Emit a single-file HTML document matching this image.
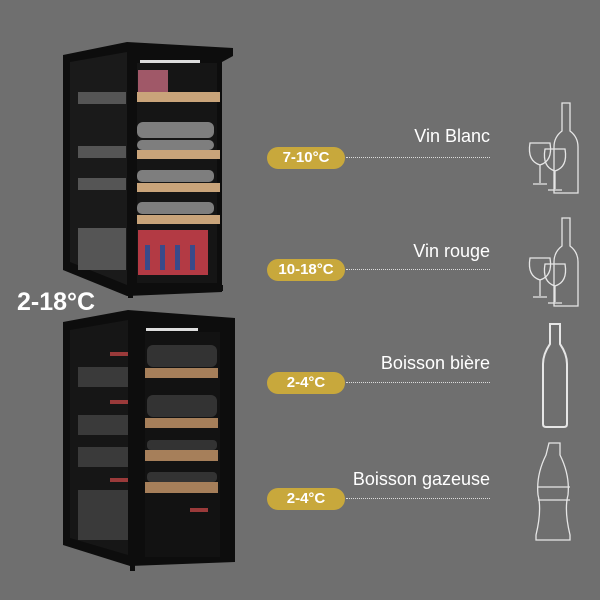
<!DOCTYPE html>
<html><head><meta charset="utf-8"><style>
html,body{margin:0;padding:0;background:#6f6f6f;}
#c{position:relative;width:600px;height:600px;overflow:hidden;background:#6f6f6f;font-family:"Liberation Sans",sans-serif;}
.pill{position:absolute;left:267px;width:78px;height:22px;border-radius:11px;background:#c8a83c;color:#fff;font-weight:bold;font-size:15px;line-height:22px;text-align:center;}
.dot{position:absolute;left:346px;width:144px;border-top:1.5px dotted #ddd;}
.lab{position:absolute;right:110px;color:#fff;font-size:18px;}
</style></head><body><div id="c">
<svg width="600" height="600" style="position:absolute;left:0;top:0">
 <!-- top fridge -->
 <polygon points="63,55 127,42 233,48 233,56 222,62 222,292 127,296 63,270" fill="#0d0d0d"/>
 <polygon points="70,62 127,52 127,285 70,262" fill="#1a1a1a"/>
 <rect x="137" y="63" width="80" height="220" fill="#151515"/>
 <rect x="140" y="60" width="60" height="3" fill="#ddd"/>
 <g fill="#c9a47a">
  <rect x="137" y="92" width="83" height="10"/><rect x="137" y="150" width="83" height="9"/>
  <rect x="137" y="183" width="83" height="9"/><rect x="137" y="215" width="83" height="9"/>
 </g>
 <g fill="#7e7e7e">
  <rect x="137" y="122" width="77" height="16" rx="6"/><rect x="137" y="140" width="77" height="10" rx="5"/>
  <rect x="137" y="170" width="77" height="12" rx="5"/><rect x="137" y="202" width="77" height="12" rx="5"/>
 </g>
 <rect x="138" y="70" width="30" height="22" fill="#a05868"/>
 <g fill="#b33a44"><rect x="138" y="230" width="70" height="45"/></g>
 <g fill="#3a4a8a"><rect x="145" y="245" width="5" height="25"/><rect x="160" y="245" width="5" height="25"/><rect x="175" y="245" width="5" height="25"/><rect x="190" y="245" width="5" height="25"/></g>
 <g fill="#555"><rect x="78" y="92" width="48" height="12"/><rect x="78" y="146" width="48" height="12"/><rect x="78" y="178" width="48" height="12"/><rect x="78" y="228" width="48" height="42"/></g>
 <rect x="128" y="292" width="5" height="6" fill="#0d0d0d"/><rect x="218" y="285" width="5" height="6" fill="#0d0d0d"/>
 <!-- bottom fridge -->
 <polygon points="63,322 128,310 235,318 235,562 130,566 63,545" fill="#0d0d0d"/>
 <polygon points="70,330 128,320 128,555 70,538" fill="#161616"/>
 <rect x="145" y="332" width="75" height="225" fill="#121212"/>
 <rect x="146" y="328" width="52" height="3" fill="#ddd"/>
 <g fill="#333"><rect x="147" y="345" width="70" height="22" rx="6"/><rect x="147" y="395" width="70" height="22" rx="6"/><rect x="147" y="440" width="70" height="10" rx="4"/><rect x="147" y="472" width="70" height="10" rx="4"/></g>
 <g fill="#a67f5a">
  <rect x="145" y="368" width="73" height="10"/><rect x="145" y="418" width="73" height="10"/>
  <rect x="145" y="450" width="73" height="11"/><rect x="145" y="482" width="73" height="11"/>
 </g>
 <g fill="#3a3a3a"><rect x="78" y="367" width="50" height="20"/><rect x="78" y="415" width="50" height="20"/><rect x="78" y="447" width="50" height="20"/><rect x="78" y="490" width="50" height="50"/></g>
 <g fill="#9a3a3a"><rect x="110" y="352" width="18" height="4"/><rect x="110" y="400" width="18" height="4"/><rect x="110" y="478" width="18" height="4"/><rect x="190" y="508" width="18" height="4"/></g>
 <rect x="130" y="565" width="5" height="6" fill="#0d0d0d"/>
 <!-- icons -->
 <g fill="none" stroke="#e6e6e6" stroke-width="1.3">
  <path d="M562,103 h8 v28 q8,6 8,16 v46 h-24 v-46 q0,-10 8,-16z"/>
  <path d="M530,143 h20 q3,18 -10,22 q-13,-4 -10,-22z M540,165 v18 M533,184 h14"/>
  <path d="M545,149 h20 q3,18 -10,22 q-13,-4 -10,-22z M555,171 v18 M548,190 h14"/>
  <path d="M562,218 h8 v28 q8,6 8,16 v44 h-24 v-44 q0,-10 8,-16z"/>
  <path d="M530,258 h20 q3,18 -10,22 q-13,-4 -10,-22z M540,280 v16 M533,297 h14"/>
  <path d="M545,264 h20 q3,18 -10,22 q-13,-4 -10,-22z M555,286 v16 M548,303 h14"/>
  <path d="M550,324 h10 v20 q7,10 7,20 v60 q0,3 -3,3 h-18 q-3,0 -3,-3 v-60 q0,-10 7,-20z" stroke-width="2"/>
  <path d="M549,443 h11 v12 q10,20 8,40 q-4,15 2,40 v5 h-34 v-5 q6,-25 2,-40 q-2,-20 8,-40z"/>
  <path d="M538,487 h32 M538,500 h32"/>
 </g>
</svg>
<div style="position:absolute;left:17px;top:288px;color:#fff;font-weight:bold;font-size:25px;">2-18°C</div>
<div class="lab" style="top:126px">Vin Blanc</div>
<div class="lab" style="top:241px">Vin rouge</div>
<div class="lab" style="top:353px">Boisson bière</div>
<div class="lab" style="top:469px">Boisson gazeuse</div>
<div class="pill" style="top:147px">7-10°C</div><div class="dot" style="top:157px"></div>
<div class="pill" style="top:259px">10-18°C</div><div class="dot" style="top:269px"></div>
<div class="pill" style="top:372px">2-4°C</div><div class="dot" style="top:382px"></div>
<div class="pill" style="top:488px">2-4°C</div><div class="dot" style="top:498px"></div>
</div></body></html>
